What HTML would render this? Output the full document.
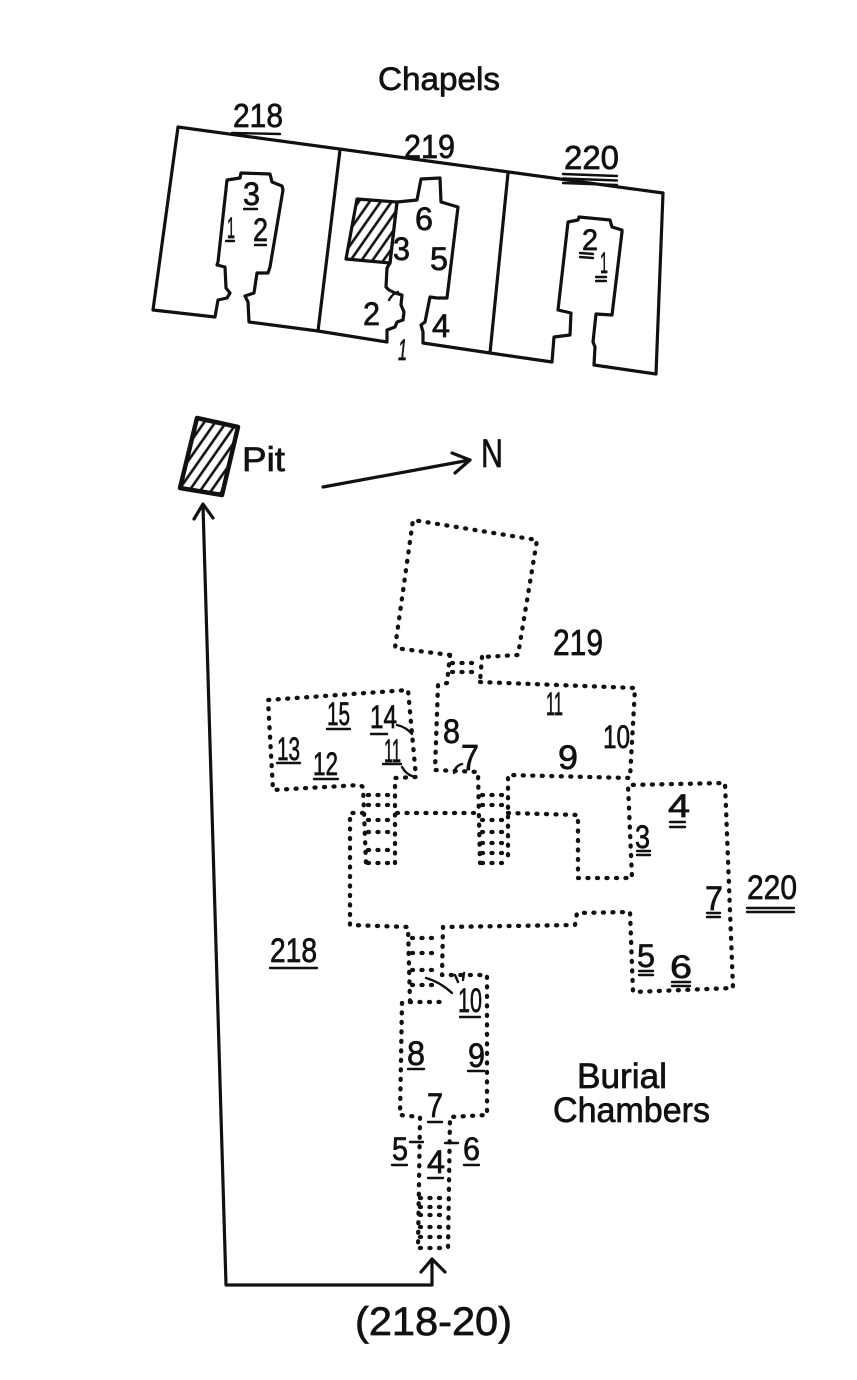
<!DOCTYPE html>
<html>
<head>
<meta charset="utf-8">
<style>
  html,body{margin:0;padding:0;background:#fff;}
  body{width:857px;height:1380px;overflow:hidden;}
  svg{display:block;}
  text{font-family:"Liberation Sans","DejaVu Sans",sans-serif;fill:#111;stroke:#111;stroke-width:0.7;}
  .sol{fill:none;stroke:#111;stroke-width:3.2;stroke-linejoin:round;stroke-linecap:round;}
  .dot{fill:none;stroke:#111;stroke-width:4.3;stroke-dasharray:1 8.5;stroke-linecap:round;stroke-linejoin:round;}
  .ul{stroke:#111;stroke-width:2.4;stroke-linecap:round;}
</style>
</head>
<body>
<svg width="857" height="1380" viewBox="0 0 857 1380" xmlns="http://www.w3.org/2000/svg">
  <defs>
    <pattern id="hatch" width="9" height="9" patternUnits="userSpaceOnUse" patternTransform="rotate(35)">
      <line x1="4.5" y1="0" x2="4.5" y2="9" stroke="#111" stroke-width="2.6"/>
    </pattern>
  </defs>

  <!-- ===== CHAPELS ===== -->
  <text x="378" y="90" font-size="32" textLength="122" lengthAdjust="spacingAndGlyphs">Chapels</text>

  <text x="233" y="127" font-size="33" textLength="50" lengthAdjust="spacingAndGlyphs">218</text>
  <line class="ul" x1="232" y1="133" x2="280" y2="134" stroke-width="3"/>
  <text x="404" y="158" font-size="33" textLength="51" lengthAdjust="spacingAndGlyphs">219</text>
  <text x="564" y="169" font-size="33" textLength="55" lengthAdjust="spacingAndGlyphs">220</text>
  <line class="ul" x1="563" y1="174" x2="617" y2="176"/>
  <line class="ul" x1="563" y1="178.5" x2="617" y2="180.5"/>
  <line class="ul" x1="563" y1="183" x2="617" y2="185"/>

  <path class="sol" d="M178,127 L663,193 L656,374 L594,365 L595,347 L593,342 L596,314 L612,315 L622,232 L622,230 L612,227 L610,220 L579,217 L578,220 L568,222 L558,310 L571,313 L570,335 L554,337 L552,362 L490,353 L423,343 L423,332 L421,325 L425,322 L428,307 L430,297 L437,298 L447,298 L458,207 L441,202 L440,178 L421,179 L417,200 L397,202 L390,263 L387,268 L386,287 L389,290 L395,293 L402,295 L401,305 L404,312 L403,320 L397,322 L395,327 L387,330 L387,342 L318,331 L249,322 L248,302 L245,296 L254,293 L257,273 L268,273 L270,267 L283,190 L282,186 L272,182 L270,174 L241,173 L240,178 L227,180 L218,262 L217,265 L225,267 L226,288 L230,293 L227,298 L218,300 L215,317 L153,310 Z"/>
  <path class="sol" d="M340,150 L318,331"/>
  <path class="sol" d="M508,173 L490,353"/>
  <polygon points="357,199 397,202 390,263 346,259" fill="url(#hatch)" stroke="#111" stroke-width="3.2" stroke-linejoin="round"/>

  <!-- chapel 218 labels -->
  <text x="243" y="205" font-size="32" textLength="17" lengthAdjust="spacingAndGlyphs">3</text>
  <line class="ul" x1="244" y1="209" x2="257" y2="209"/>
  <text x="227" y="238" font-size="30" textLength="8" lengthAdjust="spacingAndGlyphs">1</text>
  <line class="ul" x1="226" y1="241" x2="234" y2="241"/>
  <text x="253" y="241" font-size="32" textLength="15" lengthAdjust="spacingAndGlyphs">2</text>
  <line class="ul" x1="255" y1="245" x2="266" y2="245"/>

  <!-- chapel 219 labels -->
  <text x="415" y="230" font-size="32" textLength="18" lengthAdjust="spacingAndGlyphs">6</text>
  <text x="393" y="260" font-size="32" textLength="17" lengthAdjust="spacingAndGlyphs">3</text>
  <text x="430" y="270" font-size="32" textLength="18" lengthAdjust="spacingAndGlyphs">5</text>
  <text x="363" y="325" font-size="32" textLength="17" lengthAdjust="spacingAndGlyphs">2</text>
  <path class="ul" d="M389,300 Q393,293 398,292" fill="none"/>
  <text x="432" y="337" font-size="32" textLength="18" lengthAdjust="spacingAndGlyphs">4</text>
  <text x="398" y="360" font-size="30" font-style="italic" textLength="9" lengthAdjust="spacingAndGlyphs">1</text>

  <!-- chapel 220 labels -->
  <text x="582" y="250" font-size="30" textLength="16" lengthAdjust="spacingAndGlyphs">2</text>
  <line class="ul" x1="580" y1="253" x2="593" y2="254"/>
  <line class="ul" x1="580" y1="257" x2="593" y2="258"/>
  <text x="600" y="273" font-size="30" textLength="8" lengthAdjust="spacingAndGlyphs">1</text>
  <line class="ul" x1="596" y1="277" x2="606" y2="277"/>
  <line class="ul" x1="596" y1="281" x2="606" y2="281"/>

  <!-- ===== PIT & NORTH ===== -->
  <polygon points="197,418 238,427 222,495 180,488" fill="url(#hatch)" stroke="#111" stroke-width="4.5" stroke-linejoin="round"/>
  <text x="242" y="471" font-size="34" textLength="43" lengthAdjust="spacingAndGlyphs">Pit</text>
  <path class="sol" d="M323,487 L470,460" stroke-width="3.6"/>
  <path class="sol" d="M452,453 L470,460 L455,473" stroke-width="3.6"/>
  <text x="481" y="467" font-size="40" textLength="22" lengthAdjust="spacingAndGlyphs">N</text>

  <!-- long arrow -->
  <path class="sol" d="M203,506 L226,1285 L432,1285 L432,1260" stroke-width="3"/>
  <path class="sol" d="M194,519 L203,504 L213,518" stroke-width="3"/>
  <path class="sol" d="M421,1272 L432,1259 L445,1272" stroke-width="3"/>
  <text x="355" y="1335" font-size="40" textLength="157" lengthAdjust="spacingAndGlyphs">(218-20)</text>

  <!-- ===== BURIAL CHAMBERS (dotted) ===== -->
  <polyline class="dot" points="450,655 395,648 413,520 537,540 518,655 482,657"/>
  <polyline class="dot" points="450,655 447,683"/>
  <polyline class="dot" points="482,657 480,682"/>
  <line class="dot" x1="452" y1="663" x2="478" y2="663"/>
  <line class="dot" x1="452" y1="672" x2="478" y2="672"/>

  <polyline class="dot" points="447,683 438,685 435,770 478,772 480,863"/>
  <polyline class="dot" points="480,682 635,688 630,778 508,775 508,863"/>
  <g>
    <line class="dot" x1="482" y1="795" x2="506" y2="795"/>
    <line class="dot" x1="482" y1="805" x2="506" y2="805"/>
    <line class="dot" x1="482" y1="820" x2="506" y2="820"/>
    <line class="dot" x1="482" y1="832" x2="506" y2="832"/>
    <line class="dot" x1="482" y1="843" x2="506" y2="843"/>
    <line class="dot" x1="482" y1="853" x2="506" y2="853"/>
    <line class="dot" x1="482" y1="863" x2="506" y2="863"/>
  </g>

  <polyline class="dot" points="395,863 395,778 416,777 408,690 268,700 273,790 360,785 363,787 366,863"/>
  <g>
    <line class="dot" x1="368" y1="795" x2="393" y2="795"/>
    <line class="dot" x1="368" y1="805" x2="393" y2="805"/>
    <line class="dot" x1="368" y1="820" x2="393" y2="820"/>
    <line class="dot" x1="368" y1="832" x2="393" y2="832"/>
    <line class="dot" x1="368" y1="850" x2="393" y2="850"/>
    <line class="dot" x1="368" y1="863" x2="393" y2="863"/>
  </g>

  <polyline class="dot" points="363,813 350,813 350,925 408,927 410,1002 402,1003 400,1115 420,1117 418,1248"/>
  <line class="dot" x1="397" y1="813" x2="478" y2="813"/>
  <polyline class="dot" points="508,813 578,815 578,878 632,878 628,785 725,783 733,988 633,992 630,912 577,913 575,925 443,927 442,975 487,975 487,1115 450,1117 448,1248"/>
  <line class="dot" x1="410" y1="1002" x2="440" y2="1002"/>
  <g>
    <line class="dot" x1="412" y1="938" x2="440" y2="938"/>
    <line class="dot" x1="412" y1="953" x2="440" y2="953"/>
    <line class="dot" x1="412" y1="970" x2="440" y2="970"/>
    <line class="dot" x1="412" y1="985" x2="440" y2="985"/>
  </g>
  <g>
    <line class="dot" x1="420" y1="1198" x2="446" y2="1198"/>
    <line class="dot" x1="420" y1="1207" x2="446" y2="1207"/>
    <line class="dot" x1="420" y1="1215" x2="446" y2="1215"/>
    <line class="dot" x1="420" y1="1227" x2="446" y2="1227"/>
    <line class="dot" x1="420" y1="1237" x2="446" y2="1237"/>
    <line class="dot" x1="420" y1="1248" x2="446" y2="1248"/>
  </g>
  <path class="ul" d="M426,978 Q440,982 452,993" fill="none" stroke-width="2.8"/>
  <line class="ul" x1="455" y1="975" x2="458" y2="982"/>
  <line class="ul" x1="464" y1="973" x2="463" y2="980"/>

  <!-- burial labels -->
  <text x="553" y="655" font-size="36" textLength="50" lengthAdjust="spacingAndGlyphs">219</text>
  <text x="546" y="715" font-size="32" textLength="17" lengthAdjust="spacingAndGlyphs">11</text>
  <text x="603" y="748" font-size="32" textLength="27" lengthAdjust="spacingAndGlyphs">10</text>
  <text x="558" y="769" font-size="34" textLength="20" lengthAdjust="spacingAndGlyphs">9</text>
  <text x="443" y="743" font-size="34" textLength="17" lengthAdjust="spacingAndGlyphs">8</text>
  <text x="461" y="770" font-size="36" textLength="18" lengthAdjust="spacingAndGlyphs">7</text>
  <path class="ul" d="M462,764 Q455,766 454,773" fill="none"/>

  <text x="327" y="725" font-size="32" textLength="23" lengthAdjust="spacingAndGlyphs">15</text>
  <line class="ul" x1="327" y1="729" x2="350" y2="729" stroke-width="3"/>
  <text x="370" y="728" font-size="32" textLength="27" lengthAdjust="spacingAndGlyphs">14</text>
  <path class="ul" d="M397,725 Q406,727 412,734" fill="none"/>
  <text x="384" y="762" font-size="32" textLength="17" lengthAdjust="spacingAndGlyphs">11</text>
  <line class="ul" x1="371" y1="734" x2="387" y2="734" stroke-width="3"/>
  <line class="ul" x1="383" y1="764" x2="401" y2="764"/>
  <path class="ul" d="M402,767 Q406,774 412,776" fill="none"/>
  <text x="277" y="760" font-size="32" textLength="23" lengthAdjust="spacingAndGlyphs">13</text>
  <line class="ul" x1="277" y1="763" x2="300" y2="763" stroke-width="3"/>
  <text x="313" y="775" font-size="32" textLength="25" lengthAdjust="spacingAndGlyphs">12</text>
  <line class="ul" x1="314" y1="779" x2="338" y2="779" stroke-width="3"/>

  <text x="668" y="817" font-size="32" textLength="22" lengthAdjust="spacingAndGlyphs">4</text>
  <line class="ul" x1="670" y1="822" x2="685" y2="822"/>
  <line class="ul" x1="670" y1="827" x2="685" y2="827"/>
  <text x="635" y="848" font-size="32" textLength="15" lengthAdjust="spacingAndGlyphs">3</text>
  <line class="ul" x1="637" y1="851" x2="650" y2="851"/>
  <line class="ul" x1="637" y1="855" x2="650" y2="855"/>
  <text x="705" y="910" font-size="34" textLength="18" lengthAdjust="spacingAndGlyphs">7</text>
  <line class="ul" x1="707" y1="913" x2="720" y2="913"/>
  <line class="ul" x1="707" y1="917" x2="720" y2="917"/>
  <text x="637" y="967" font-size="32" textLength="18" lengthAdjust="spacingAndGlyphs">5</text>
  <line class="ul" x1="639" y1="971" x2="653" y2="971"/>
  <line class="ul" x1="639" y1="975" x2="653" y2="975"/>
  <text x="670" y="978" font-size="32" textLength="22" lengthAdjust="spacingAndGlyphs">6</text>
  <line class="ul" x1="672" y1="982" x2="690" y2="982"/>
  <line class="ul" x1="672" y1="986" x2="690" y2="986"/>

  <text x="747" y="899" font-size="34" textLength="50" lengthAdjust="spacingAndGlyphs">220</text>
  <line class="ul" x1="747" y1="908" x2="794" y2="908"/>
  <line class="ul" x1="747" y1="912" x2="794" y2="912"/>
  <text x="270" y="962" font-size="34" textLength="47" lengthAdjust="spacingAndGlyphs">218</text>
  <line class="ul" x1="270" y1="968" x2="317" y2="968"/>

  <text x="458" y="1012" font-size="34" textLength="24" lengthAdjust="spacingAndGlyphs">10</text>
  <line class="ul" x1="460" y1="1017" x2="480" y2="1017"/>
  <text x="407" y="1065" font-size="34" textLength="18" lengthAdjust="spacingAndGlyphs">8</text>
  <line class="ul" x1="408" y1="1069" x2="424" y2="1069"/>
  <text x="468" y="1067" font-size="34" textLength="17" lengthAdjust="spacingAndGlyphs">9</text>
  <line class="ul" x1="468" y1="1071" x2="484" y2="1071"/>
  <text x="427" y="1117" font-size="34" textLength="16" lengthAdjust="spacingAndGlyphs">7</text>
  <line class="ul" x1="428" y1="1122" x2="442" y2="1122"/>
  <text x="392" y="1160" font-size="32" textLength="16" lengthAdjust="spacingAndGlyphs">5</text>
  <line class="ul" x1="392" y1="1165" x2="407" y2="1165"/>
  <line class="ul" x1="410" y1="1142" x2="423" y2="1142"/>
  <text x="427" y="1173" font-size="32" textLength="18" lengthAdjust="spacingAndGlyphs">4</text>
  <line class="ul" x1="428" y1="1178" x2="443" y2="1178"/>
  <text x="463" y="1160" font-size="32" textLength="17" lengthAdjust="spacingAndGlyphs">6</text>
  <line class="ul" x1="464" y1="1165" x2="479" y2="1165"/>
  <line class="ul" x1="445" y1="1143" x2="458" y2="1143"/>

  <text x="577" y="1088" font-size="35" textLength="90" lengthAdjust="spacingAndGlyphs">Burial</text>
  <text x="553" y="1122" font-size="35" textLength="157" lengthAdjust="spacingAndGlyphs">Chambers</text>
</svg>
</body>
</html>
